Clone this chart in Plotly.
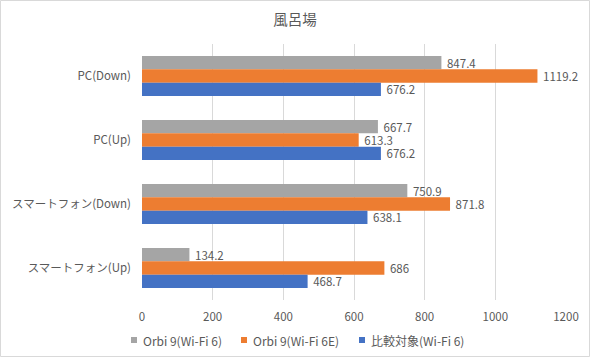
import plotly.graph_objects as go

categories = ["PC(Down)", "PC(Up)", "スマートフォン(Down)", "スマートフォン(Up)"]
series_names = ["Orbi 9(Wi-Fi 6)", "Orbi 9(Wi-Fi 6E)", "比較対象(Wi-Fi 6)"]
orbi_wifi6 = [847.4, 667.7, 750.9, 134.2]
orbi_wifi6e = [1119.2, 613.3, 871.8, 686]
hikaku_wifi6 = [676.2, 676.2, 638.1, 468.7]
tick_vals = [0, 200, 400, 600, 800, 1000, 1200]

colors = ["#A5A5A5", "#ED7D31", "#4472C4"]
FONT = "Noto Sans CJK JP"
TXT = "#595959"

# layout geometry (pixels)
W, H = 590, 357
L, R, T, B = 142, 24, 44, 57
PW, PH = W - L - R, H - T - B

def px_x(p):
    return (p - L) / PW

def px_y(p):
    return (H - B - p) / PH

fig = go.Figure()
for name, vals, col in zip(series_names, [orbi_wifi6, orbi_wifi6e, hikaku_wifi6], colors):
    fig.add_trace(go.Bar(
        y=categories, x=vals, name=name, orientation="h",
        marker=dict(color=col, line=dict(width=0)),
        text=[f" {v:g}" for v in vals], textposition="outside",
        constraintext="none",
        textfont=dict(size=11.5, color=TXT, family=FONT),
        cliponaxis=False, showlegend=False, hoverinfo="skip",
    ))

# legend (drawn as small squares + text, like the original)
legend_text_x = [141, 251, 369]
legend_y = 340
shapes = [dict(type="rect", xref="paper", yref="paper",
               x0=px_x(0.5), x1=px_x(W - 0.5), y0=px_y(H - 0.5), y1=px_y(0.5),
               line=dict(color="#D9D9D9", width=1), layer="below")]
annotations = []
for name, col, tx in zip(series_names, colors, legend_text_x):
    shapes.append(dict(type="rect", xref="paper", yref="paper",
                       x0=px_x(tx - 10), x1=px_x(tx - 4),
                       y0=px_y(legend_y + 3), y1=px_y(legend_y - 3),
                       fillcolor=col, line=dict(width=0)))
    annotations.append(dict(text=name, xref="paper", yref="paper",
                            x=px_x(tx), y=px_y(legend_y), xanchor="left", yanchor="middle",
                            showarrow=False, font=dict(size=12, color=TXT, family=FONT)))

fig.update_layout(
    width=W, height=H,
    paper_bgcolor="white", plot_bgcolor="white",
    margin=dict(l=L, r=R, t=T, b=B, autoexpand=False),
    barmode="group", bargap=0.375, bargroupgap=0,
    title=dict(text="風呂場", x=0.5, xanchor="center", xref="container",
               y=1 - 20 / H, yanchor="middle", yref="container",
               font=dict(size=14.5, color=TXT, family=FONT)),
    font=dict(family=FONT, color=TXT, size=11.5),
    showlegend=False,
    xaxis=dict(range=[0, 1200], tickvals=tick_vals, showgrid=True, gridcolor="#D9D9D9",
               gridwidth=1, zeroline=False, showline=False, ticks="", automargin=False,
               ticklabelstandoff=8,
               tickfont=dict(size=11.5, color=TXT, family=FONT)),
    yaxis=dict(autorange="reversed", showgrid=False, showline=False, ticks="",
               automargin=False, ticklabelstandoff=10,
               tickfont=dict(size=11.5, color=TXT, family=FONT)),
    shapes=shapes,
    annotations=annotations,
)
fig.write_html("out.html", config={"displayModeBar": False},
               post_script="document.body.style.margin='0';document.body.style.overflow='hidden';")
